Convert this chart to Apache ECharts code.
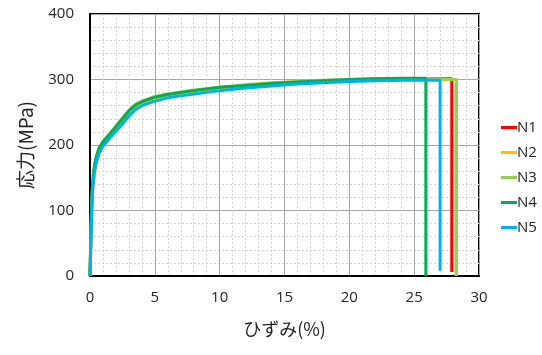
<!DOCTYPE html>
<html>
<head>
<meta charset="utf-8">
<script src="https://cdn.jsdelivr.net/npm/echarts@6/dist/echarts.min.js"></script>
<style>html,body{margin:0;padding:0;background:#fff}#c{width:542px;height:355px}</style>
</head>
<body>
<div id="c"></div>
<script>
const seriesNames = ['N1', 'N2', 'N3', 'N4', 'N5'];
const colors = ['#FF0000', '#FFC000', '#92D050', '#00B050', '#00B0F0'];
const xTicks = [0, 5, 10, 15, 20, 25, 30];
const yTicks = [0, 100, 200, 300, 400];

const n1Strain = [0, 0.05, 0.1, 0.15, 0.2, 0.3, 0.4, 0.5, 0.7, 1.0, 1.5, 2.0, 2.5, 3.0, 3.5, 4.0, 5.0, 6.0, 7.0, 8.0, 10.0, 12.0, 14.0, 16.0, 18.0, 20.0, 22.0, 24.0, 26.0, 27.9, 27.9];
const n1Stress = [0, 45, 85, 115, 136, 157, 170, 179, 191, 202, 214, 226, 238, 250, 259, 265, 271, 275, 278, 281, 286, 290, 293, 295, 297, 298, 299, 300, 301, 301, 6];

const n2Strain = [0, 0.05, 0.1, 0.15, 0.2, 0.3, 0.4, 0.5, 0.7, 1.0, 1.5, 2.0, 2.5, 3.0, 3.5, 4.0, 5.0, 6.0, 7.0, 8.0, 10.0, 12.0, 14.0, 16.0, 18.0, 20.0, 22.0, 24.0, 26.0, 28.25, 28.25];
const n2Stress = [0, 30, 65, 98, 122, 148, 162, 172, 186, 199, 212, 224, 235, 247, 257, 263, 270, 274, 277, 280, 285, 289, 292, 295, 297, 298, 299, 300, 300, 300, 0];

const n3Strain = [0, 0.05, 0.1, 0.15, 0.2, 0.3, 0.4, 0.5, 0.7, 1.0, 1.5, 2.0, 2.5, 3.0, 3.5, 4.0, 5.0, 6.0, 7.0, 8.0, 10.0, 12.0, 14.0, 16.0, 18.0, 20.0, 22.0, 24.0, 26.0, 28.25, 28.25];
const n3Stress = [0, 48, 90, 120, 140, 161, 173, 182, 195, 205, 217, 229, 241, 253, 262, 267, 274, 278, 281, 284, 288, 292, 295, 297, 299, 300, 301, 301, 301, 300, 0];

const n4Strain = [0, 0.05, 0.1, 0.15, 0.2, 0.3, 0.4, 0.5, 0.7, 1.0, 1.5, 2.0, 2.5, 3.0, 3.5, 4.0, 5.0, 6.0, 7.0, 8.0, 10.0, 12.0, 14.0, 16.0, 18.0, 20.0, 22.0, 24.0, 25.9, 25.9];
const n4Stress = [0, 50, 92, 122, 142, 162, 174, 183, 195, 205, 216, 228, 240, 252, 261, 266, 273, 277, 280, 283, 288, 291, 294, 296, 298, 300, 301, 302, 302, 0];

const n5Strain = [0, 0.05, 0.1, 0.15, 0.2, 0.3, 0.4, 0.5, 0.7, 1.0, 1.5, 2.0, 2.5, 3.0, 3.5, 4.0, 5.0, 6.0, 7.0, 8.0, 10.0, 12.0, 14.0, 16.0, 18.0, 20.0, 22.0, 24.0, 26.0, 27.0, 27.0];
const n5Stress = [0, 38, 75, 108, 130, 153, 166, 175, 188, 198, 210, 221, 232, 244, 254, 260, 267, 272, 275, 278, 283, 287, 290, 293, 295, 297, 298, 299, 299, 299, 8];

const strains = [n1Strain, n2Strain, n3Strain, n4Strain, n5Strain];
const stresses = [n1Stress, n2Stress, n3Stress, n4Stress, n5Stress];

const chart = echarts.init(document.getElementById('c'));
const txt = '#262626';
chart.setOption({
  animation: false,
  grid: { left: 90, right: 63, top: 14, bottom: 79, show: true, borderColor: '#000', borderWidth: 2, backgroundColor: 'transparent' },
  legend: {
    orient: 'vertical', left: 496, top: 115, itemGap: 10, itemWidth: 16, itemHeight: 3,
    icon: 'rect', textStyle: { fontSize: 15, color: txt, fontFamily: 'Open Sans', padding: [0, 0, 0, -5] },
    data: seriesNames
  },
  xAxis: {
    type: 'value', min: xTicks[0], max: xTicks[xTicks.length - 1], interval: 5,
    name: 'ひずみ(%)', nameLocation: 'middle', nameGap: 44,
    nameTextStyle: { fontSize: 18, color: txt, fontFamily: 'Noto Sans CJK JP' },
    axisLine: { show: true, lineStyle: { color: '#000', width: 2 } },
    axisTick: { show: false },
    axisLabel: { fontSize: 15, color: txt, margin: 14, fontFamily: 'Open Sans' },
    splitLine: { show: true, lineStyle: { color: '#A6A6A6', width: 1 } },
    minorTick: { show: false, splitNumber: 5 },
    minorSplitLine: { show: true, lineStyle: { color: '#D4D4D4', width: 1, type: [2, 2] } }
  },
  yAxis: {
    type: 'value', min: yTicks[0], max: yTicks[yTicks.length - 1], interval: 100,
    name: '応力(MPa)', nameLocation: 'middle', nameGap: 55, nameRotate: 90,
    nameTextStyle: { fontSize: 19, color: txt, fontFamily: 'Noto Sans CJK JP' },
    axisLine: { show: true, lineStyle: { color: '#000', width: 2 } },
    axisTick: { show: false },
    axisLabel: { fontSize: 15, color: txt, margin: 16, fontFamily: 'Open Sans' },
    splitLine: { show: true, lineStyle: { color: '#A6A6A6', width: 1 } },
    minorTick: { show: false, splitNumber: 5 },
    minorSplitLine: { show: true, lineStyle: { color: '#D4D4D4', width: 1, type: [2, 2] } }
  },
  series: seriesNames.map((n, i) => ({
    name: n, type: 'line', showSymbol: false, symbol: 'none',
    data: strains[i].map((x, j) => [x, stresses[i][j]]),
    lineStyle: { color: colors[i], width: 3 },
    itemStyle: { color: colors[i] },
    z: 2 + i
  }))
});
</script>
</body>
</html>
